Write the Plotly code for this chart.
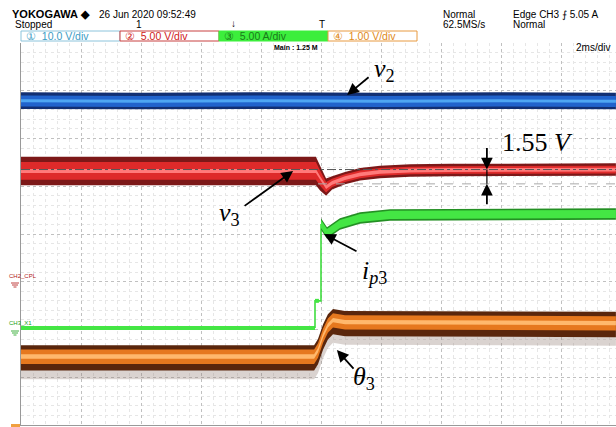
import plotly.graph_objects as go

# ---------------- data (time in ms, vertical position in screen divisions) ----------------
t_v2 = [0, 4.0, 8.0, 12.0, 16.0, 19.83]
v2 = [2.79, 2.78, 2.79, 2.78, 2.79, 2.78]

t_v3 = [0, 9.83, 9.97, 10.17, 10.37, 10.8, 11.3, 11.97, 12.97, 14.3, 19.83]
v3 = [1.32, 1.32, 1.17, 0.98, 1.07, 1.17, 1.25, 1.30, 1.33, 1.34, 1.35]
v3_noise = [0.30, 0.30, 0.26, 0.18, 0.14, 0.13, 0.13, 0.13, 0.13, 0.13, 0.13]

t_ip3 = [0, 9.8, 9.8, 9.93, 10.0, 10.0, 10.2, 10.63, 11.3, 12.3, 19.83]
ip3 = [-1.97, -1.97, -1.40, -1.40, -1.40, 0.21, 0.02, 0.21, 0.335, 0.40, 0.42]

t_th3 = [0, 9.77, 9.9, 10.07, 10.23, 10.4, 10.8, 19.83]
th3 = [-2.56, -2.56, -2.43, -2.12, -1.91, -1.80, -1.84, -1.86]

dip_top = 1.35      # upper reference (divisions)
dip_bottom = 1.05   # lower reference (divisions)

W, H = 616, 427
L, R, T, B = 21, 0, 43, 2
XMAX = (W - L - R) / 30.0


def X(p):  # pixel x -> paper
    return (p - L) / (W - L - R)


def Y(p):  # pixel y -> paper
    return (H - B - p) / (H - T - B)


def band(t, c, up, dn, color, name):
    up_y = [ci + u for ci, u in zip(c, up)]
    dn_y = [ci - d for ci, d in zip(c, dn)]
    return go.Scatter(x=list(t) + list(t)[::-1], y=up_y + dn_y[::-1], fill="toself",
                      fillcolor=color, line=dict(width=0), mode="lines",
                      hoverinfo="skip", showlegend=False, name=name)


fig = go.Figure()

# v2 (blue)
n = len(t_v2)
fig.add_trace(band(t_v2, v2, [0.18] * n, [0.17] * n, "#122f72", "v2o"))
fig.add_trace(band(t_v2, v2, [0.11] * n, [0.12] * n, "#2163cc", "v2m"))
fig.add_trace(band(t_v2, v2, [0.03] * n, [0.03] * n, "#4ea6f2", "v2c"))

# v3 (red)
fig.add_trace(band(t_v3, v3, v3_noise, v3_noise, "#7c1818", "v3o"))
fig.add_trace(band(t_v3, v3, [w * 0.62 for w in v3_noise], [w * 0.62 for w in v3_noise], "#de2a2a", "v3m"))
fig.add_trace(band(t_v3, v3, [0.04] * len(t_v3), [0.04] * len(t_v3), "#ff7a7a", "v3c"))

# theta3 (orange)
m = len(t_th3)
fig.add_trace(band(t_th3, th3, [0.18] * m, [0.48] * m, "rgba(150,130,120,0.35)", "tho"))
fig.add_trace(band(t_th3, th3, [0.23] * m, [0.30] * m, "#5a260c", "thd"))
fig.add_trace(band(t_th3, th3, [0.14] * m, [0.16] * m, "#e6781e", "thm"))
fig.add_trace(band(t_th3, th3, [0.04] * m, [0.05] * m, "#ffb86c", "thc"))

# ip3 (green): thick flat part, thin step edges, band after the step
k = t_ip3.index(10.0) + 1
fig.add_trace(go.Scatter(x=t_ip3[:2], y=ip3[:2], mode="lines", line=dict(color="#44e644", width=4),
                         hoverinfo="skip", showlegend=False))
fig.add_trace(go.Scatter(x=t_ip3[1:k + 1], y=ip3[1:k + 1], mode="lines",
                         line=dict(color="#3fdc3f", width=1.6), hoverinfo="skip", showlegend=False))
fig.add_trace(go.Scatter(x=t_ip3[2:4], y=ip3[2:4], mode="lines", line=dict(color="#44e644", width=4),
                         hoverinfo="skip", showlegend=False))
fig.add_trace(band(t_ip3[k:], ip3[k:], [0.12] * (len(ip3) - k), [0.12] * (len(ip3) - k), "#249024", "ipo"))
fig.add_trace(band(t_ip3[k:], ip3[k:], [0.085] * (len(ip3) - k), [0.085] * (len(ip3) - k), "#44e644", "ipm"))

# reference lines for the 1.55 V dip
fig.add_shape(type="line", xref="x", yref="y", x0=0, x1=XMAX, y0=dip_top, y1=dip_top,
              line=dict(color="#555555", width=1, dash="dashdot"))
fig.add_shape(type="line", xref="x", yref="y", x0=9.9, x1=XMAX, y0=dip_bottom, y1=dip_bottom,
              line=dict(color="#aaaaaa", width=1, dash="dash"))
fig.add_shape(type="line", xref="x", yref="y", x0=15.53, x1=15.53, y0=dip_bottom, y1=dip_top,
              line=dict(color="black", width=1.2))


def arrow(xh, yh, ax, ay):
    fig.add_annotation(x=xh, y=yh, xref="x", yref="y", ax=ax, ay=ay, text="", showarrow=True,
                       arrowhead=2, arrowsize=1.3, arrowwidth=1.8, arrowcolor="black")


arrow(10.87, 2.91, 23, -19)
arrow(9.07, 1.32, -50, 36)
arrow(10.1, 0.0, 34, 18)
arrow(10.53, -2.43, 18, 20)
arrow(15.53, dip_top, 0, -23)
arrow(15.53, dip_bottom, 0, 22)

math_font = dict(family="Liberation Serif", size=26, color="black")
for txt, xp, yp in [("<i>v</i><sub>2</sub>", 384, 70), ("<i>v</i><sub>3</sub>", 230, 214),
                    ("<i>i</i><sub><i>p</i>3</sub>", 374, 272), ("<i>θ</i><sub>3</sub>", 364, 378),
                    ("1.55 <i>V</i>", 537, 142)]:
    fig.add_annotation(x=X(xp), y=Y(yp), xref="paper", yref="paper", text=txt, showarrow=False,
                       font=math_font, xanchor="center", yanchor="middle")

# header texts
for txt, xp, yp, sz, bold in [("YOKOGAWA ◆", 10, 6, 11, True), ("26 Jun 2020 09:52:49", 97, 7, 10, False),
                              ("Stopped", 13, 17, 10, False), ("1", 134, 17, 10, False),
                              ("↓", 229, 16, 10, False), ("T", 317, 17, 10, False),
                              ("Normal", 441, 7, 10, False), ("62.5MS/s", 441, 17, 10, False),
                              ("Edge CH3 ⨍ 5.05 A", 511, 7, 10, False), ("Normal", 511, 17, 10, False)]:
    fig.add_annotation(x=X(xp), y=Y(yp), xref="paper", yref="paper",
                       text=f"<b>{txt}</b>" if bold else txt, showarrow=False,
                       font=dict(family="Liberation Sans", size=sz, color="black"),
                       xanchor="left", yanchor="top")

# channel boxes
boxes = [(21, 120, "white", "#8cc4dc", "①  10.0 V/div", "#3a9cc4"),
         (120, 219, "white", "#c84040", "②  5.00 V/div", "#d02020"),
         (219, 328, "#3cee3c", "#3cee3c", "③  5.00 A/div", "#1a7a1a"),
         (328, 417, "white", "#e89a40", "④  1.00 V/div", "#e08a20")]
for x0, x1, fill, border, txt, tc in boxes:
    fig.add_shape(type="rect", xref="paper", yref="paper", x0=X(x0), x1=X(x1), y0=Y(41), y1=Y(31),
                  fillcolor=fill, line=dict(color=border, width=1))
    fig.add_annotation(x=X(x0 + 3), y=Y(36), xref="paper", yref="paper", text=txt, showarrow=False,
                       font=dict(family="Liberation Sans", size=10.5, color=tc),
                       xanchor="left", yanchor="middle")

fig.add_annotation(x=X(296), y=Y(47), xref="paper", yref="paper", text="<b>Main : 1.25 M</b>",
                   showarrow=False, font=dict(family="Liberation Sans", size=7, color="black"),
                   xanchor="center", yanchor="middle")
fig.add_annotation(x=X(612), y=Y(48), xref="paper", yref="paper", text="2ms/div",
                   showarrow=False, font=dict(family="Liberation Sans", size=10, color="black"),
                   xanchor="right", yanchor="middle")

# channel markers on the left
fig.add_annotation(x=X(7), y=Y(276), xref="paper", yref="paper", text="CH2_CPL", showarrow=False,
                   font=dict(family="Liberation Sans", size=6, color="#b02020"),
                   xanchor="left", yanchor="middle")
fig.add_annotation(x=X(7), y=Y(323), xref="paper", yref="paper", text="CH3_X1", showarrow=False,
                   font=dict(family="Liberation Sans", size=6, color="#20a020"),
                   xanchor="left", yanchor="middle")
for yy, col in [(283, "#c04040"), (331, "#40b040")]:
    for i, w in enumerate([8, 6, 3]):
        fig.add_shape(type="line", xref="paper", yref="paper", x0=X(15 - w / 2), x1=X(15 + w / 2),
                      y0=Y(yy + 2 * i), y1=Y(yy + 2 * i), line=dict(color=col, width=1))
fig.add_shape(type="rect", xref="paper", yref="paper", x0=X(11), x1=X(20), y0=Y(427), y1=Y(424),
              fillcolor="#f0a040", line=dict(width=0))

fig.update_layout(
    width=W, height=H, margin=dict(l=L, r=R, t=T, b=B),
    paper_bgcolor="white", plot_bgcolor="white", showlegend=False,
    xaxis=dict(range=[0, XMAX], dtick=2, showgrid=True, gridcolor="#c0c0c0", griddash="dot",
               gridwidth=1, minor=dict(dtick=0.4, showgrid=True, gridcolor="#e6e6e6"),
               showticklabels=False, zeroline=False, showline=True, linecolor="#999999",
               ticks="", fixedrange=True),
    yaxis=dict(range=[-4, 4], dtick=1, showgrid=True, gridcolor="#c0c0c0", griddash="dot",
               gridwidth=1, minor=dict(dtick=0.2, showgrid=True, gridcolor="#e6e6e6"),
               showticklabels=False, zeroline=False, showline=True, linecolor="#999999",
               ticks="", fixedrange=True),
)

fig.write_html("out.html", config={"displayModeBar": False},
               post_script="document.body.style.margin='0px';document.body.style.overflow='hidden';")
